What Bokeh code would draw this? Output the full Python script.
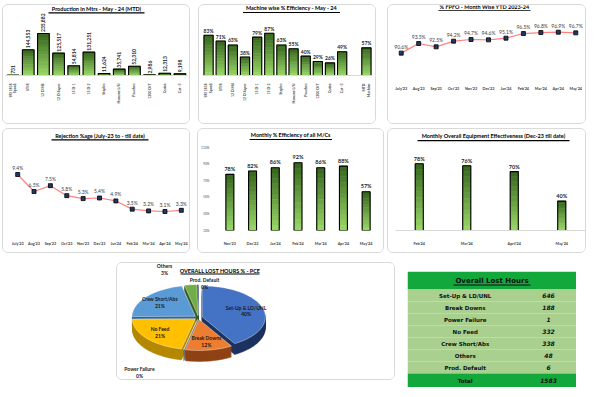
import math
import numpy as np
from bokeh.plotting import figure
from bokeh.models import FactorRange, Range1d, Label, BoxAnnotation, FixedTicker, PrintfTickFormatter
from bokeh.layouts import row, column
from bokeh.core.properties import value
from bokeh.embed import file_html
from bokeh.resources import INLINE

FONT = "Lato"

# ------------------------------------------------------------------ data
machines = ["9R/1818\nSpool)", "ST/8", "12 D Mil", "12 D Super", "15 D-1", "15 D-2",
            "Staples", "Hamane L/U", "Pouches", "1200 D/T", "Quinn", "Cut -3"]
production_mtrs = [731, 144553, 235882, 125517, 54814, 131251, 11624, 35741, 52310, 2986, 12313, 9198]
machine_eff_pct = [83, 71, 63, 38, 79, 87, 63, 55, 40, 29, 26, 49]
mtd_label = "MTD\nMachine"
mtd_eff_pct = 57

ytd_months = ["July'23", "Aug'23", "Sep'23", "Oct'23", "Nov'23", "Dec'23",
              "Jan'24", "Feb'24", "Mar'24", "Apr'24", "May'24"]
fpfo_pct = [90.6, 93.5, 92.5, 94.2, 94.7, 94.6, 95.1, 96.5, 96.8, 96.9, 96.7]
rejection_pct = [9.4, 6.5, 7.5, 5.8, 5.3, 5.4, 4.9, 3.5, 3.2, 3.1, 3.3]

eff_months = ["Nov'23", "Dec'23", "Jan'24", "Feb'24", "Mar'24", "Apr'24", "May'24"]
eff_all_pct = [78, 82, 86, 92, 86, 88, 57]
eff_ticks = [10, 30, 50, 70, 90, 110]

oee_months = ["Feb'24", "Mar'24", "April'24", "May'24"]
oee_pct = [78, 76, 70, 40]

loss_cats = ["Set-Up & LD/UNL", "Break Downs", "Power Failure", "No Feed",
             "Crew Short/Abs", "Others", "Prod. Default"]
loss_pct = [40, 12, 0, 21, 21, 3, 0]
loss_hours = [646, 188, 1, 332, 338, 48, 6]
loss_total = 1583

# ------------------------------------------------------------------ styles
PANEL = {"border": "1px solid #d9d9d9", "border-radius": "6px", "box-sizing": "border-box",
         "overflow": "hidden"}
TITLE_LIFT = 3.0   # text sits this many px above the nominal baseline


def hex_lerp(c0, c1, t):
    a = [int(c0[i:i + 2], 16) for i in (1, 3, 5)]
    b = [int(c1[i:i + 2], 16) for i in (1, 3, 5)]
    return "#%02x%02x%02x" % tuple(round(a[j] + (b[j] - a[j]) * t) for j in range(3))


BAND_N = 12
BAND_COLORS = [hex_lerp("#96d464", "#3a6a1f", i / (BAND_N - 1)) for i in range(BAND_N)]


def chart_fig(w, h, factors, y0, y1, left, right, top, bottom, margin=(0, 0, 0, 0)):
    """Frame reaches the canvas top so the title can live inside it; the value
    range is extended upward so that y0..y1 still spans the nominal plot area."""
    fh = h - top - bottom
    y_end = y1 + top / fh * (y1 - y0)
    p = figure(width=w, height=h, x_range=FactorRange(factors=factors),
               y_range=Range1d(y0, y_end), toolbar_location=None, output_backend="svg",
               min_border_left=left, min_border_right=right, min_border_top=0,
               min_border_bottom=bottom, margin=margin, styles=PANEL)
    p.outline_line_color = None
    p.background_fill_color = "white"
    p.border_fill_color = "white"
    p.grid.grid_line_color = None
    p.tags = [dict(l=left, w=w - left - right, h=h - bottom, x1=len(factors), y0=y0, y1=y_end)]
    return p


def plain_fig(w, h, xr, yr, margin, styles):
    p = figure(width=w, height=h, x_range=xr, y_range=yr, toolbar_location=None,
               output_backend="svg", min_border=0, margin=margin, styles=styles,
               x_axis_location=None, y_axis_location=None)
    p.outline_line_color = None
    p.background_fill_color = "white"
    p.border_fill_color = "white"
    p.grid.grid_line_color = None
    return p


def style_xaxis(p, size, orient=None, line=None, standoff=2):
    ax = p.xaxis[0]
    ax.axis_line_color = line
    ax.major_tick_line_color = None
    ax.minor_tick_line_color = None
    ax.major_label_text_font = FONT
    ax.major_label_text_font_size = size
    ax.major_label_text_font_style = "bold"
    ax.major_label_text_color = "#404040"
    ax.major_label_standoff = standoff
    if orient is not None:
        ax.major_label_orientation = orient


def title_on(p, text, cx, baseline, uw, size="5.5px"):
    g = p.tags[0]
    to_x = lambda px: (px - g["l"]) / g["w"] * g["x1"]
    to_y = lambda py: g["y1"] - py / g["h"] * (g["y1"] - g["y0"])
    p.add_layout(Label(x=to_x(cx), y=to_y(baseline - TITLE_LIFT), text=text,
                       text_align="center", text_baseline="alphabetic", text_font=FONT,
                       text_font_size=size, text_font_style="bold", text_color="black"))
    p.add_layout(BoxAnnotation(left=to_x(cx - uw / 2), right=to_x(cx + uw / 2),
                               top=to_y(baseline + 0.8), bottom=to_y(baseline + 1.9),
                               fill_color="black", fill_alpha=1.0, line_color=None))


def gradient_bars(p, cats, vals, base, width):
    v = np.asarray(vals, dtype=float)
    for i, col in enumerate(BAND_COLORS):
        p.vbar(x=list(cats), bottom=base + (v - base) * i / BAND_N,
               top=base + (v - base) * (i + 1) / BAND_N, width=width,
               fill_color=col, line_color=col, line_width=0.5)
    p.vbar(x=list(cats), bottom=base, top=v, width=width, fill_color=None,
           line_color="black", line_width=1.1)


def bar_labels(p, cats, vals, texts, size, yoff, angle=0.0, align="center", baseline="bottom"):
    p.text(x=list(cats), y=list(vals), text=texts, angle=angle, text_align=align,
           text_baseline=baseline, y_offset=yoff, text_font=value(FONT),
           text_font_size=size, text_font_style="bold", text_color="#262626")


def line_chart(p, cats, vals, fmt):
    p.line(x=cats, y=vals, line_color="#ff8080", line_width=1.2)
    p.scatter(x=cats, y=vals, marker="square", size=4, fill_color="#1f3864",
              line_color="black", line_width=0.8)
    p.text(x=cats, y=vals, text=[fmt.format(v) for v in vals], text_align="center",
           text_baseline="bottom", y_offset=-3.5, text_font=value(FONT),
           text_font_size="5px", text_color="#404040")
    p.yaxis.visible = False


# ------------------------------------------------------------------ chart 1
p1 = chart_fig(188, 120, machines, 0, 308900, 2, 4, 15, 50)
gradient_bars(p1, machines, production_mtrs, 0, 0.77)
bar_labels(p1, machines, production_mtrs, [f"{v:,}" for v in production_mtrs], "5px", -1.5,
           angle=math.pi / 2, align="left", baseline="middle")
p1.yaxis.visible = False
style_xaxis(p1, "3.5px", orient=math.pi / 2, line="#d9d9d9", standoff=2)
title_on(p1, "Production in Mtrs - May - 24 (MTD)", 93, 6, 96)

# ------------------------------------------------------------------ chart 2
eff_cats = machines + [" ", mtd_label]
p2 = chart_fig(178, 120, eff_cats, 0, 114.6, 3, 5, 15, 47, margin=(0, 0, 0, 8))
bars2_c = machines + [mtd_label]
bars2_v = machine_eff_pct + [mtd_eff_pct]
gradient_bars(p2, bars2_c, bars2_v, 0, 0.76)
bar_labels(p2, bars2_c, bars2_v, [f"{v}%" for v in bars2_v], "5px", -1.5)
p2.yaxis.visible = False
style_xaxis(p2, "3.5px", orient=math.pi / 2, line="#d9d9d9", standoff=2)
title_on(p2, "Machine wise % Efficiency - May - 24", 92, 6, 97)

# ------------------------------------------------------------------ chart 3
p3 = chart_fig(199, 120, ytd_months, 83.87, 101.68, 4, 3, 15, 23, margin=(0, 0, 0, 11))
line_chart(p3, ytd_months, fpfo_pct, "{:.1f}%")
style_xaxis(p3, "3.8px", standoff=4)
title_on(p3, "% FPFO - Month Wise YTD 2023-24", 96, 5.5, 92)

# ------------------------------------------------------------------ chart 4
p4 = chart_fig(188, 125, ytd_months, -0.135, 14.51, 6, 2, 15, 24)
line_chart(p4, ytd_months, rejection_pct, "{:.1f}%")
style_xaxis(p4, "3.8px", standoff=4)
title_on(p4, "Rejection %age (July-23 to - till date)", 96.5, 9, 97)

# ------------------------------------------------------------------ chart 5
p5 = chart_fig(187, 125, eff_months, 10, 110, 13, 8, 19, 21, margin=(0, 0, 0, 7))
gradient_bars(p5, eff_months, eff_all_pct, 10, 0.35)
bar_labels(p5, eff_months, eff_all_pct, [f"{v}%" for v in eff_all_pct], "5.5px", -2.5)
style_xaxis(p5, "3.8px", standoff=4)
ya = p5.yaxis[0]
ya.ticker = FixedTicker(ticks=eff_ticks)
ya.formatter = PrintfTickFormatter(format="%d%%")
ya.axis_line_color = None
ya.major_tick_line_color = None
ya.minor_tick_line_color = None
ya.major_label_text_font = FONT
ya.major_label_text_font_size = "3.3px"
ya.major_label_text_color = "#595959"
ya.major_label_standoff = 3
title_on(p5, "Monthly % Efficiency of all M/Cs", 88.5, 9, 86)

# ------------------------------------------------------------------ chart 6
p6 = chart_fig(199, 125, oee_months, 10, 98, 7, 2, 15, 22, margin=(0, 0, 0, 3))
gradient_bars(p6, oee_months, oee_pct, 10, 0.17)
bar_labels(p6, oee_months, oee_pct, [f"{v}%" for v in oee_pct], "5.5px", -2)
p6.yaxis.visible = False
style_xaxis(p6, "3.8px", line="#d9d9d9", standoff=4)
title_on(p6, "Monthly Overall Equipment Effectiveness (Dec-23 till date)", 105, 10, 152)

# ------------------------------------------------------------------ pie (3-D look)
pie = plain_fig(279, 118, Range1d(-81, 198), Range1d(-64, 54), (0, 0, 0, 114), PANEL)
TOP_COLORS = ["#4472c4", "#ed7d31", "#a5a5a5", "#ffc000", "#5b9bd5", "#70ad47", "#264478"]
SIDE_COLORS = ["#1f3461", "#8f4314", "#6e6e6e", "#b58800", "#2f6699", "#3b5e27", "#16284a"]
RX, RY, DEPTH, EXPL = 63.0, 31.0, 11, 4.0
vals = np.asarray(loss_hours, dtype=float)
edges = np.concatenate([[0.0], np.cumsum(vals / vals.sum())]) * 2 * np.pi
polys = []
for i in range(len(vals)):
    a0, a1 = edges[i], edges[i + 1]
    mid = 0.5 * (a0 + a1)
    ex, ey = EXPL * np.sin(mid), EXPL * RY / RX * np.cos(mid)
    n = max(3, int(60 * (a1 - a0) / np.pi) + 2)
    t = np.linspace(a0, a1, n)
    xs = np.concatenate([[ex], ex + RX * np.sin(t)])
    ys = np.concatenate([[ey], ey + RY * np.cos(t)])
    polys.append((mid, ex, ey, xs, ys))
order = sorted(range(len(vals)), key=lambda k: -np.cos(polys[k][0]))
for i in order:
    mid, ex, ey, xs, ys = polys[i]
    pie.patches(xs=[xs] * DEPTH, ys=[ys - k for k in range(DEPTH, 0, -1)],
                fill_color=SIDE_COLORS[i], line_color=SIDE_COLORS[i], line_width=0.5)
    pie.patch(x=xs, y=ys, fill_color=TOP_COLORS[i], line_color="white", line_width=0.4)

OUTSIDE = {"Power Failure": (-59, -55), "Others": (-34, 48), "Prod. Default": (6, 34)}
lx, ly = [], []
for i, c in enumerate(loss_cats):
    mid, ex, ey, xs, ys = polys[i]
    if c in OUTSIDE:
        lx.append(OUTSIDE[c][0]); ly.append(OUTSIDE[c][1])
    else:
        lx.append(ex + 0.72 * RX * np.sin(mid)); ly.append(ey + 0.72 * RY * np.cos(mid))
pie.text(x=lx, y=ly, text=[f"{c}\n{v}%" for c, v in zip(loss_cats, loss_pct)],
         text_align="center", text_baseline="middle", text_font=value(FONT),
         text_font_size="5px", text_font_style="bold", text_color="#1a1a1a",
         text_line_height=1.1)
pie.add_layout(Label(x=21.5, y=47, text="OVERALL LOST HOURS % - PCE", text_align="center",
                     text_baseline="middle", text_font=FONT, text_font_size="5.5px",
                     text_font_style="bold", text_color="black"))
pie.add_layout(BoxAnnotation(left=-18, right=61, top=44.0, bottom=43.0, fill_color="black",
                             fill_alpha=1.0, line_color=None))

# ------------------------------------------------------------------ table
TW, TH = 169, 116
row_names = ["Overall Lost Hours"] + loss_cats + ["Total"]
row_vals = [""] + [str(v) for v in loss_hours] + [str(loss_total)]
ROW_H = [18] + [12] * len(loss_cats) + [14]
tops = np.concatenate([[0], np.cumsum(ROW_H)[:-1]])
centers = [TH - (t + h / 2) for t, h in zip(tops, ROW_H)]
row_fill = ["#13a83c"] + ["#a9d08e"] * len(loss_cats) + ["#13a83c"]
tab = plain_fig(TW, TH, Range1d(0, TW), Range1d(0, TH), (9, 0, 0, 12), {})
tab.hbar(y=centers, height=ROW_H, left=0, right=TW, fill_color=row_fill, line_color=None)
tab.text(x=[TW / 2], y=[centers[0]], text=[row_names[0]], text_align="center",
         text_baseline="middle", text_font=value("DejaVu Sans"), text_font_size="7px",
         text_font_style="bold", text_color="#111111")
tab.segment(x0=[TW / 2 - 38.5], x1=[TW / 2 + 38.5], y0=[centers[0] - 4.5], y1=[centers[0] - 4.5],
            line_color="#111111", line_width=1)
tab.text(x=[57.7] * (len(row_names) - 1), y=centers[1:], text=row_names[1:], text_align="center",
         text_baseline="middle", text_font=value("DejaVu Sans"), text_font_size="5.5px",
         text_font_style="bold", text_color="#111111")
tab.text(x=[141] * (len(row_vals) - 1), y=centers[1:], text=row_vals[1:], text_align="center",
         text_baseline="middle", text_font=value("DejaVu Sans"), text_font_size="6px",
         text_font_style="bold italic", text_color="#111111")

# ------------------------------------------------------------------ layout
layout = column(
    row(p1, p2, p3),
    row(p4, p5, p6, margin=(4, 0, 0, 0)),
    row(pie, tab, margin=(9, 0, 0, 0)),
    margin=(4, 0, 0, 2),
)

open("out.html", "w").write(file_html(layout, INLINE))
